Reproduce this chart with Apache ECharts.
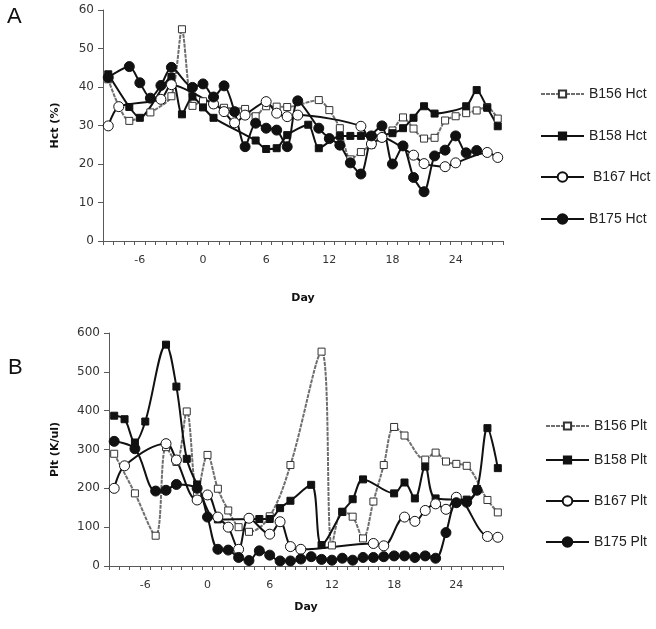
<!DOCTYPE html>
<html><head><meta charset="utf-8">
<script src="https://cdn.jsdelivr.net/npm/echarts@6/dist/echarts.min.js"></script>
<style>html,body{margin:0;padding:0;background:#fff}#c{width:656px;height:629px}</style>
</head><body><div id="c"></div>
<script>
// Days (categories)
const days = [-9,-8,-7,-6,-5,-4,-3,-2,-1,0,1,2,3,4,5,6,7,8,9,10,11,12,13,14,15,16,17,18,19,20,21,22,23,24,25,26,27,28];
const dayLabels = [-6,0,6,12,18,24];
const hctTicks = [0,10,20,30,40,50,60];
const pltTicks = [0,100,200,300,400,500,600];

// Panel A: Hct (%)
const b156Hct = [42,null,31.2,null,33.4,null,37.6,55,35.1,36.3,35.5,34.6,null,34.3,32.4,35,34.9,34.8,null,null,36.6,34,29.3,21.2,23.1,25,26.8,28.7,32.1,29.2,26.6,26.8,31.3,32.4,33.2,33.9,34.8,31.8];
const b158Hct = [43.3,null,34.8,32,null,null,42.6,32.9,37.5,34.7,32,null,null,null,26.1,23.9,24.1,27.5,null,30.2,24.1,null,27.3,27.3,27.3,27.3,null,28,29.3,32,35,33.1,null,null,35,39.2,34.6,29.8];
const b167Hct = [29.9,34.9,null,null,null,36.8,40.6,null,null,null,35.6,33.6,30.7,32.7,null,36.2,33.2,32.3,32.7,null,null,null,null,null,29.8,25.2,26.9,null,null,22.3,20.1,null,19.3,20.3,null,null,23,21.7];
const b175Hct = [42.5,null,45.3,41.1,37.1,40.4,45.1,null,39.9,40.8,37.4,40.3,33.6,24.5,30.6,29.3,28.8,24.5,36.4,null,29.3,26.6,24.9,20.3,17.4,27.3,29.9,20,24.7,16.5,12.8,22.1,23.6,27.3,22.9,23.5,null,null];

// Panel B: Plt (K/ul)
const b156Plt = [289,null,187,null,78,306,268,398,185,286,199,143,100,88,null,128,null,260,null,null,552,53,140,127,71,166,260,358,336,null,274,292,269,263,258,null,170,138];
const b158Plt = [387,378,318,372,null,570,462,276,210,null,120,null,null,null,121,121,149,168,null,209,54,null,139,172,223,null,null,187,215,174,256,174,null,null,171,198,355,252];
const b167Plt = [200,258,null,null,null,315,273,null,170,183,126,100,43,123,null,82,114,50,43,null,null,null,null,null,null,58,52,null,126,115,143,160,146,177,null,null,76,74];
const b175Plt = [321,null,302,null,193,195,210,null,200,126,43,41,22,14,39,28,13,13,18,24,17,15,20,15,22,22,24,26,26,22,26,20,86,163,164,195,null,null];

const FONT = 'DejaVu Sans';
const styles = {
  B156: {symbol:'rect', size:7, fill:'#ffffff', border:'#333333', line:'#6e6e6e', type:[4,1]},
  B158: {symbol:'rect', size:7, fill:'#111111', border:'#111111', line:'#111111', type:'solid'},
  B167: {symbol:'circle', size:10, fill:'#ffffff', border:'#111111', line:'#111111', type:'solid'},
  B175: {symbol:'circle', size:10, fill:'#111111', border:'#111111', line:'#111111', type:'solid'}
};
function ser(name, key, data, idx, smooth) {
  const s = styles[key];
  return {
    type:'line', name:name, data:data, xAxisIndex:idx, yAxisIndex:idx,
    connectNulls:true, smooth:smooth, symbol:s.symbol, symbolSize:s.size,
    showAllSymbol:true,
    lineStyle:{color:s.line, width:2, type:s.type},
    itemStyle:{color:s.fill, borderColor:s.border, borderWidth:1},
    emphasis:{disabled:true}, z: 2
  };
}
function leg(name, key, left, centerY) {
  const s = styles[key];
  const h = s.symbol === 'circle' ? 12 : 9;
  return {
    data:[name], left:left, top:centerY - 8, itemWidth:43, itemHeight:h, itemGap:0,
    selectedMode:false,
    textStyle:{fontFamily:'Liberation Sans', fontSize:14, color:'#222', padding:[0,0,0,0]},
    padding:0
  };
}
function xAx(idx, gap) {
  return {
    type:'category', gridIndex:idx, data:days, boundaryGap:true,
    name:'Day', nameLocation:'middle', nameGap:gap,
    nameTextStyle:{fontFamily:FONT, fontSize:11, fontWeight:'bold', color:'#111'},
    axisLine:{lineStyle:{color:'#595959', width:1}},
    axisTick:{show:true, interval:0, length:4, lineStyle:{color:'#595959'}},
    axisLabel:{interval:function(i, v){ return dayLabels.indexOf(Number(v)) >= 0; },
      fontFamily:FONT, fontSize:11, color:'#333', margin:14},
    splitLine:{show:false}
  };
}
function yAx(idx, name, max, interval, gap) {
  return {
    type:'value', gridIndex:idx, min:0, max:max, interval:interval,
    name:name, nameLocation:'middle', nameGap:gap, nameRotate:90,
    nameTextStyle:{fontFamily:FONT, fontSize:11, fontWeight:'bold', color:'#111'},
    axisLine:{show:true, lineStyle:{color:'#595959', width:1}},
    axisTick:{show:true, length:5, lineStyle:{color:'#595959'}},
    axisLabel:{fontFamily:FONT, fontSize:12, color:'#333', margin:9},
    splitLine:{show:false}
  };
}

const chart = echarts.init(document.getElementById('c'), null, {renderer:'canvas'});
chart.setOption({
  animation:false,
  backgroundColor:'#ffffff',
  title:[
    {text:'A', left:2, top:1, textStyle:{fontFamily:'Liberation Sans', fontSize:22, fontWeight:'normal', color:'#111'}},
    {text:'B', left:3, top:352, textStyle:{fontFamily:'Liberation Sans', fontSize:22, fontWeight:'normal', color:'#111'}}
  ],
  grid:[
    {left:103, top:10, width:400, height:231},
    {left:109, top:333, width:394, height:233}
  ],
  xAxis:[xAx(0, 52), xAx(1, 36)],
  yAxis:[yAx(0, 'Hct (%)', 60, 10, 42), yAx(1, 'Plt (K/ul)', 600, 100, 48)],
  legend:[
    leg('B156 Hct','B156',540,95),
    leg('B158 Hct','B158',540,137),
    leg(' B167 Hct','B167',540,178),
    leg('B175 Hct','B175',540,220),
    leg('B156 Plt','B156',545,427),
    leg('B158 Plt','B158',545,461),
    leg('B167 Plt','B167',545,502),
    leg('B175 Plt','B175',545,543)
  ],
  series:[
    ser('B156 Hct','B156',b156Hct,0,0.25),
    ser('B158 Hct','B158',b158Hct,0,0.25),
    ser(' B167 Hct','B167',b167Hct,0,0.25),
    ser('B175 Hct','B175',b175Hct,0,0.25),
    ser('B156 Plt','B156',b156Plt,1,0.35),
    ser('B158 Plt','B158',b158Plt,1,0.35),
    ser('B167 Plt','B167',b167Plt,1,0.35),
    ser('B175 Plt','B175',b175Plt,1,0.35)
  ]
});
</script></body></html>
